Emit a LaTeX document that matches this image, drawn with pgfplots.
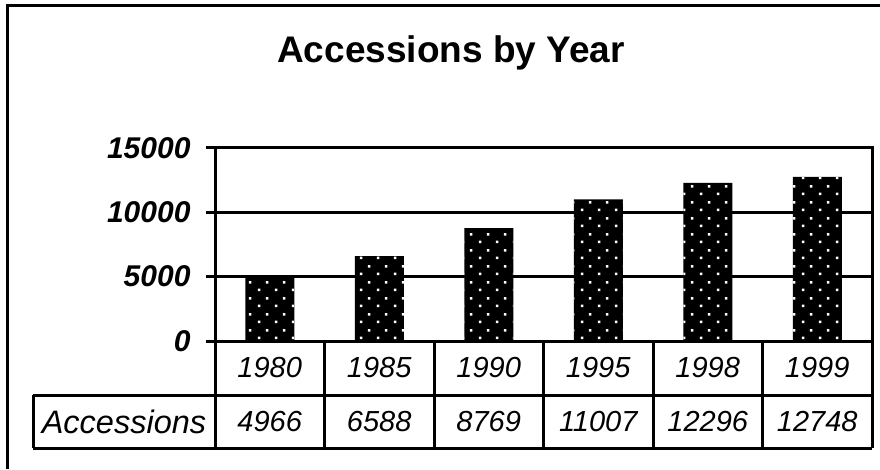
\documentclass[border=0pt]{standalone}
\usepackage{fontspec}
\setmainfont{Liberation Sans}
\usepackage{pgfplots}
\usepackage{pgfplotstable}
\pgfplotsset{compat=1.18}
\usetikzlibrary{patterns}
\pgfdeclarepatternformonly{sparsedots}{\pgfpointorigin}{\pgfpoint{17pt}{16pt}}{\pgfpoint{17pt}{16pt}}{%
  \pgfpathrectangle{\pgfpoint{3pt}{3pt}}{\pgfpoint{2.6pt}{2.6pt}}%
  \pgfpathrectangle{\pgfpoint{11.5pt}{11pt}}{\pgfpoint{2.6pt}{2.6pt}}%
  \pgfusepath{fill}}

\pgfplotstableread{
x year value
0 1980 4966
1 1985 6588
2 1990 8769
3 1995 11007
4 1998 12296
5 1999 12748
}\datatable

\begin{document}
\begin{tikzpicture}[x=1pt,y=1pt]
\path[use as bounding box] (0,0) rectangle (880,469);
\draw[line width=3pt] (7,0) -- (7,463) -- (880,463);
\node[font=\bfseries\fontsize{37}{42}\selectfont] at (451,416) {Accessions by Year};
\begin{axis}[
  at={(215pt,128pt)}, anchor=south west,
  scale only axis, width=657pt, height=193pt,
  xmin=-0.5, xmax=5.5, ymin=0, ymax=15000,
  clip=false,
  axis line style={line width=3pt},
  ytick={0,5000,10000,15000},
  ytick pos=left,
  xtick=\empty,
  ymajorgrids, grid style={line width=3pt, black},
  tick align=outside, major tick length=9pt,
  ytick style={line width=3pt, black},
  scaled y ticks=false,
  yticklabel style={font=\bfseries\itshape\fontsize{30}{34}\selectfont, xshift=-12pt,
    /pgf/number format/assume math mode=true, /pgf/number format/1000 sep={}},
]
\addplot[ybar, bar width=49pt, fill=black, draw=none, line width=0pt,
  postaction={pattern=sparsedots, pattern color=white}]
  table[x=x,y=value]{\datatable};
% data table under the chart
\pgfplotsinvokeforeach{-0.5,0.5,1.5,2.5,3.5,4.5,5.5}{
  \draw[line width=3pt] (axis cs:#1,0) -- (axis cs:#1,-8316);
}
\draw[line width=3pt] (axis cs:-2.162,-4197) -- (axis cs:5.5,-4197);
\draw[line width=3pt] (axis cs:-2.162,-8316) -- (axis cs:5.5,-8316);
\draw[line width=3pt] (axis cs:-2.162,-4197) -- (axis cs:-2.162,-8316);
\node[font=\itshape\fontsize{29}{32}\selectfont] at (axis cs:0,-2098) {1980};
\node[font=\itshape\fontsize{29}{32}\selectfont] at (axis cs:1,-2098) {1985};
\node[font=\itshape\fontsize{29}{32}\selectfont] at (axis cs:2,-2098) {1990};
\node[font=\itshape\fontsize{29}{32}\selectfont] at (axis cs:3,-2098) {1995};
\node[font=\itshape\fontsize{29}{32}\selectfont] at (axis cs:4,-2098) {1998};
\node[font=\itshape\fontsize{29}{32}\selectfont] at (axis cs:5,-2098) {1999};
\node[font=\itshape\fontsize{32.5}{36}\selectfont] at (axis cs:-1.331,-6257) {Accessions};
\node[font=\itshape\fontsize{29}{32}\selectfont] at (axis cs:0,-6257) {4966};
\node[font=\itshape\fontsize{29}{32}\selectfont] at (axis cs:1,-6257) {6588};
\node[font=\itshape\fontsize{29}{32}\selectfont] at (axis cs:2,-6257) {8769};
\node[font=\itshape\fontsize{29}{32}\selectfont] at (axis cs:3,-6257) {11007};
\node[font=\itshape\fontsize{29}{32}\selectfont] at (axis cs:4,-6257) {12296};
\node[font=\itshape\fontsize{29}{32}\selectfont] at (axis cs:5,-6257) {12748};
\end{axis}
\end{tikzpicture}
\end{document}
